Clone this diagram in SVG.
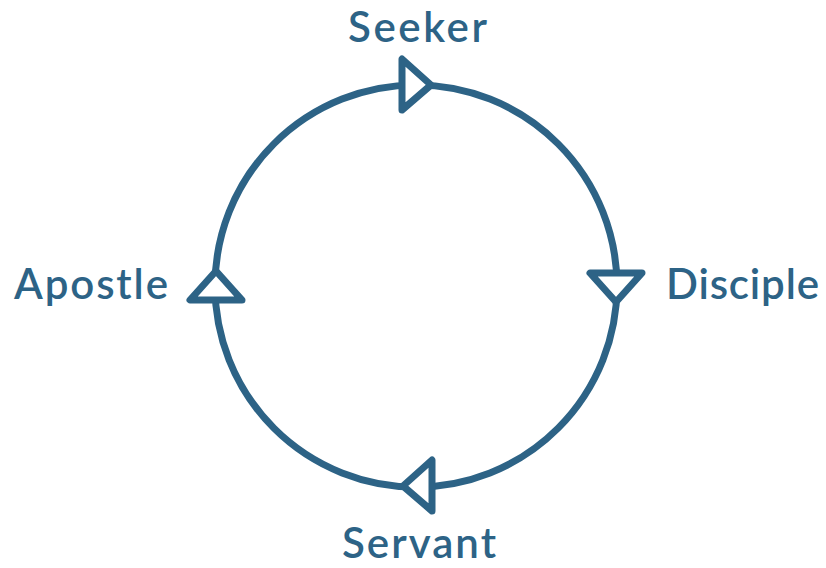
<svg xmlns="http://www.w3.org/2000/svg" width="826" height="568" viewBox="0 0 826 568">
<style>
.ring{fill:none;stroke:#2d6386;stroke-width:7}
.arr{fill:#fff;stroke:#2d6386;stroke-width:7;stroke-linejoin:round}
.lbl{font-family:Lato,"Open Sans",sans-serif;font-size:42px;fill:#2d6386;font-weight:600}
</style>
<rect width="826" height="568" fill="#fff"/>
<g id="connectors">
<circle class="ring" cx="416" cy="286" r="201"/>
<polygon class="arr" points="402,59 402,110 431,85"/>
<polygon class="arr" points="590,273 642,273 616,302"/>
<polygon class="arr" points="432,460 432,511 403,486"/>
<polygon class="arr" points="190,300 242,300 216,271"/>
</g>
<g id="seeker"><text class="lbl" x="348" y="42" textLength="139" lengthAdjust="spacing">Seeker</text></g>
<g id="disciple"><text class="lbl" x="666" y="299" textLength="153" lengthAdjust="spacing">Disciple</text></g>
<g id="servant"><text class="lbl" x="342" y="558" textLength="154" lengthAdjust="spacing">Servant</text></g>
<g id="apostle"><text class="lbl" x="14" y="299" textLength="154" lengthAdjust="spacing">Apostle</text></g>
</svg>
